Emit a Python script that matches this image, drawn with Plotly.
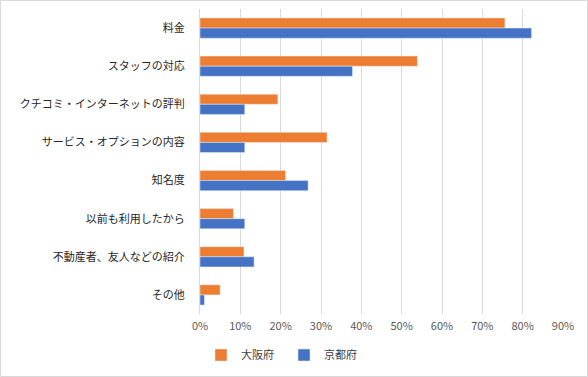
import plotly.graph_objects as go

categories = ["料金", "スタッフの対応", "クチコミ・インターネットの評判", "サービス・オプションの内容",
              "知名度", "以前も利用したから", "不動産者、友人などの紹介", "その他"]
osaka = [75.6, 53.9, 19.3, 31.5, 21.2, 8.3, 10.9, 5.0]
kyoto = [82.2, 37.8, 11.1, 11.1, 26.8, 11.1, 13.4, 1.1]
x_ticks = [0, 10, 20, 30, 40, 50, 60, 70, 80, 90]
x_tick_labels = [f"{v}%" for v in x_ticks]

W, H = 588, 377
L, R, T, B = 200, 25, 9, 63
pw, ph = W - L - R, H - T - B

fig = go.Figure()
fig.add_trace(go.Bar(y=categories, x=osaka, name="大阪府", orientation="h",
                     marker=dict(color="#ED7D31")))
fig.add_trace(go.Bar(y=categories, x=kyoto, name="京都府", orientation="h",
                     marker=dict(color="#4472C4")))

font = "Noto Sans CJK JP"
fig.update_layout(
    width=W, height=H,
    margin=dict(l=L, r=R, t=T, b=B, autoexpand=False),
    barmode="group", bargap=0.47, bargroupgap=0,
    plot_bgcolor="white", paper_bgcolor="white",
    font=dict(family=font, size=11, color="#404040"),
    xaxis=dict(range=[0, 90], tickvals=x_ticks, ticktext=x_tick_labels, automargin=False,
               showgrid=True, gridcolor="#d9d9d9", gridwidth=1, zeroline=False,
               tickfont=dict(size=11, color="#595959"), showline=False, ticks="",
               ticklabelstandoff=4),
    yaxis=dict(autorange="reversed", showgrid=False, showline=True, linecolor="#d9d9d9",
               automargin=False,
               tickfont=dict(size=11, color="#262626"), ticks="", ticklabelstandoff=12),
    legend=dict(orientation="h", x=(284 - L) / pw, xanchor="center",
                y=(-(355 - (T + ph)) / ph), yanchor="middle",
                font=dict(size=11, color="#404040"), itemwidth=30,
                entrywidth=38, entrywidthmode="pixels", traceorder="normal"),
    showlegend=True,
)
# chart border
fig.add_shape(type="rect", xref="paper", yref="paper",
              x0=(0.5 - L) / pw, x1=(W - 0.5 - L) / pw,
              y0=(T + ph - (H - 0.5)) / ph, y1=(T + ph - 0.5) / ph,
              line=dict(color="#d9d9d9", width=1), layer="below")
fig.write_html("out.html", config={"displayModeBar": False},
               post_script="document.body.style.margin='0';")
